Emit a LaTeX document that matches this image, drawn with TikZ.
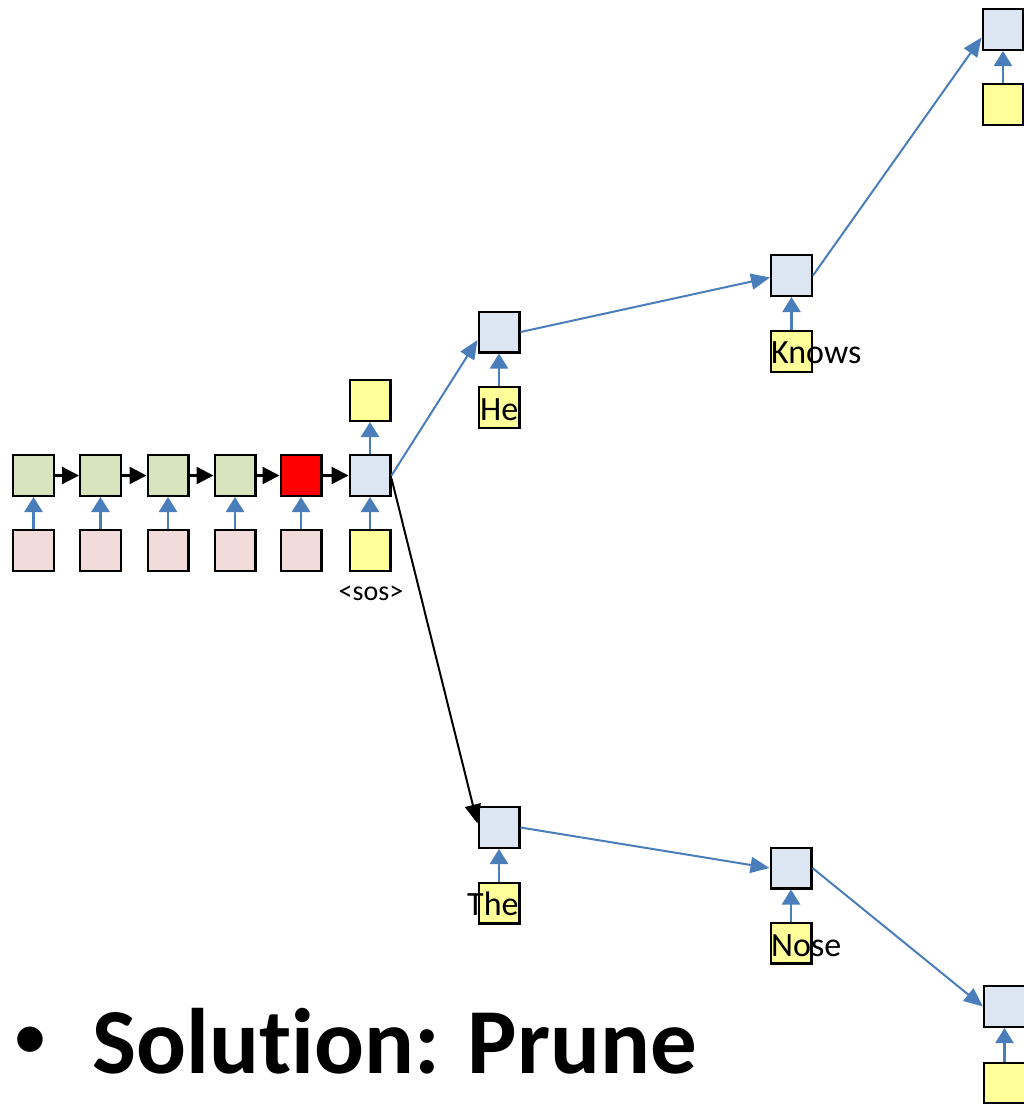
\documentclass[tikz,border=0pt]{standalone}
\usepackage{fontspec}
\setmainfont{Carlito}[Ligatures={NoCommon}]
\usetikzlibrary{arrows.meta}
\definecolor{cgreen}{HTML}{D7E4BD}
\definecolor{cpink}{HTML}{F2DCDB}
\definecolor{cblue}{HTML}{DCE6F2}
\definecolor{cyellow}{HTML}{FFFF99}
\definecolor{cred}{HTML}{FF0000}
\definecolor{carrow}{HTML}{4A7EBB}
\begin{document}
\begin{tikzpicture}[x=1pt,y=-1pt,
  cell/.style={draw=black,line width=2.4pt,minimum size=40.6pt,inner sep=0pt},
  enc/.style={cell,fill=cgreen},
  inp/.style={cell,fill=cpink},
  dec/.style={cell,fill=cblue},
  tok/.style={cell,fill=cyellow},
  upar/.style={draw=carrow,line width=2.4pt,-{Triangle[length=15pt,width=18pt]}},
  rar/.style={draw=black,line width=2.4pt,-{Triangle[length=17pt,width=17pt]}},
  brb/.style={draw=carrow,line width=2pt,-{Triangle[length=19pt,width=16pt]}},
  brk/.style={draw=black,line width=2pt,-{Triangle[length=19pt,width=16pt]}},
  lbl/.style={inner sep=0pt,font=\fontsize{34}{40}\selectfont},
]
\clip (0,0) rectangle (1024,1104);
% encoder
\node[enc] (e1) at (33.5,475.5) {};
\node[enc] (e2) at (100.5,475.5) {};
\node[enc] (e3) at (168,475.5) {};
\node[enc] (e4) at (235,475.5) {};
\node[cell,fill=cred] (e5) at (301,475.5) {};
\node[dec] (s0) at (370,475.5) {};
\node[inp] (i1) at (33.5,550.5) {};
\node[inp] (i2) at (100.5,550.5) {};
\node[inp] (i3) at (168,550.5) {};
\node[inp] (i4) at (235,550.5) {};
\node[inp] (i5) at (301,550.5) {};
\node[tok] (i6) at (370,550.5) {};
\node[tok] (o0) at (370,400.5) {};
\node[inner sep=0pt,anchor=base,font=\fontsize{28}{32}\selectfont] (sos) at (371,600) {<sos>};
\foreach \a/\b in {e1/e2,e2/e3,e3/e4,e4/e5,e5/s0} \draw[rar] (\a) -- (\b);
\foreach \a/\b in {i1/e1,i2/e2,i3/e3,i4/e4,i5/e5,i6/s0,s0/o0} \draw[upar] (\a) -- (\b);
% upper branch
\node[dec] (he) at (499,332) {};
\node[tok] (hey) at (499,407.5) {};
\node[lbl,anchor=base west] (het) at (480,420) {He};
\node[dec] (kn) at (791.5,275.5) {};
\node[tok] (kny) at (791.5,351.5) {};
\node[lbl,anchor=base west] (knt) at (771,363) {Knows};
\node[dec] (tr) at (1003,29.5) {};
\node[tok] (try) at (1003,104.5) {};
\draw[upar] (hey) -- (he);
\draw[upar] (kny) -- (kn);
\draw[upar] (try) -- (tr);
\draw[brb] (s0.east) -- ([yshift=-8pt]he.west);
\draw[brb] (he.east) -- ([yshift=-2pt]kn.west);
\draw[brb] (kn.east) -- ([yshift=-8pt]tr.west);
% lower branch
\node[dec] (th) at (499,827.5) {};
\node[tok] (thy) at (499,903) {};
\node[lbl,anchor=base west] (tht) at (467,915) {The};
\node[dec] (no) at (791,868) {};
\node[tok] (noy) at (791,943) {};
\node[lbl,anchor=base west] (not) at (771,956) {Nose};
\node[dec] (br) at (1004.5,1006.5) {};
\node[tok] (bry) at (1004.5,1083) {};
\draw[upar] (thy) -- (th);
\draw[upar] (noy) -- (no);
\draw[upar] (bry) -- (br);
\draw[brk] ([yshift=-3pt]s0.east) -- ([yshift=4pt]th.west);
\draw[brb] (th.east) -- (no.west);
\draw[brb] (no.east) -- (br.west);
% bullet text
\node[inner sep=0pt,anchor=center,font=\fontsize{60}{66}\selectfont\bfseries] (bul) at (30,1042) {•};
\node[inner sep=0pt,anchor=base west,font=\fontsize{93}{100}\selectfont\bfseries] (sol) at (92,1073) {Solution: Prune};
\end{tikzpicture}
\end{document}
